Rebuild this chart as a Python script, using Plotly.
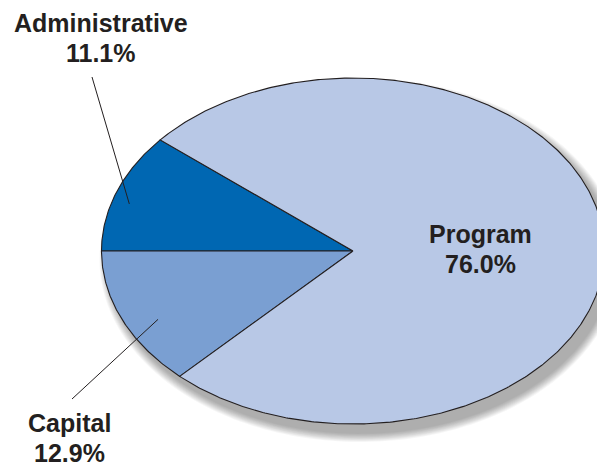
import numpy as np
import plotly.graph_objects as go

# ---- data ----
categories = ["Administrative", "Capital", "Program"]
shares = [11.1, 12.9, 76.0]
pct_labels = ["11.1%", "12.9%", "76.0%"]

# ---- style ----
colors = ["#0067B2", "#7A9FD2", "#B8C8E6"]
W, H = 605, 466
OFF = 8  # page body margin in the browser
cx, cy, rx, ry = 353, 251, 251.5, 173
outline = "#231F20"

def pt(t_deg, r=1.0):
    t = np.radians(t_deg)
    return cx + rx * r * np.cos(t), cy - ry * r * np.sin(t)

fig = go.Figure()

# soft drop shadow
tt = np.linspace(0, 2 * np.pi, 240)
for k in range(10):
    grow = 10 - k
    fig.add_trace(go.Scatter(
        x=cx + 7 + (rx + grow * 0.9) * np.cos(tt),
        y=cy + 9 + (ry + grow * 0.9) * np.sin(tt),
        fill="toself", mode="none",
        fillcolor="rgba(0,0,0,0.035)", hoverinfo="skip", showlegend=False))

# slices: Administrative ends at the horizontal left radius, Capital starts there
start = 180 - shares[0] * 3.6
angles = []
a = start
for s in shares:
    angles.append((a, a + s * 3.6))
    a += s * 3.6

for (a0, a1), col, name in zip(angles, colors, categories):
    ts = np.linspace(a0, a1, max(3, int(abs(a1 - a0) * 2)))
    xs = [cx] + [pt(t)[0] for t in ts] + [cx]
    ys = [cy] + [pt(t)[1] for t in ts] + [cy]
    fig.add_trace(go.Scatter(
        x=xs, y=ys, fill="toself", fillcolor=col, mode="lines",
        line=dict(color=outline, width=1.1), name=name,
        hoverinfo="name", showlegend=False))

font = dict(family="Liberation Sans, Arial, sans-serif", size=25, color=outline)

# labels (name line and percent line)
ann_pos = [(101, 23, 53), (69, 423, 453), (480, 234, 264)]
for name, pct, (x, y1, y2) in zip(categories, pct_labels, ann_pos):
    fig.add_annotation(x=x, y=y1, text="<b>" + name + "</b>", showarrow=False,
                       font=font, xanchor="center", yanchor="middle")
    fig.add_annotation(x=x, y=y2, text="<b>" + pct + "</b>", showarrow=False,
                       font=font, xanchor="center", yanchor="middle")

# leader lines from inside slices toward labels
leaders = [(0, 0.93, 163, (92, 77)), (1, 0.87, 207, (72, 399))]
for i, r, t, (ex, ey) in leaders:
    px, py = pt(t, r)
    fig.add_trace(go.Scatter(x=[px, ex], y=[py, ey], mode="lines",
                             line=dict(color=outline, width=1),
                             hoverinfo="skip", showlegend=False))

fig.update_layout(
    width=W - OFF, height=H - OFF, margin=dict(l=0, r=0, t=0, b=0),
    paper_bgcolor="white", plot_bgcolor="white",
    xaxis=dict(range=[OFF, W], visible=False, fixedrange=True),
    yaxis=dict(range=[H, OFF], visible=False, fixedrange=True),
)
fig.write_html("out.html")
